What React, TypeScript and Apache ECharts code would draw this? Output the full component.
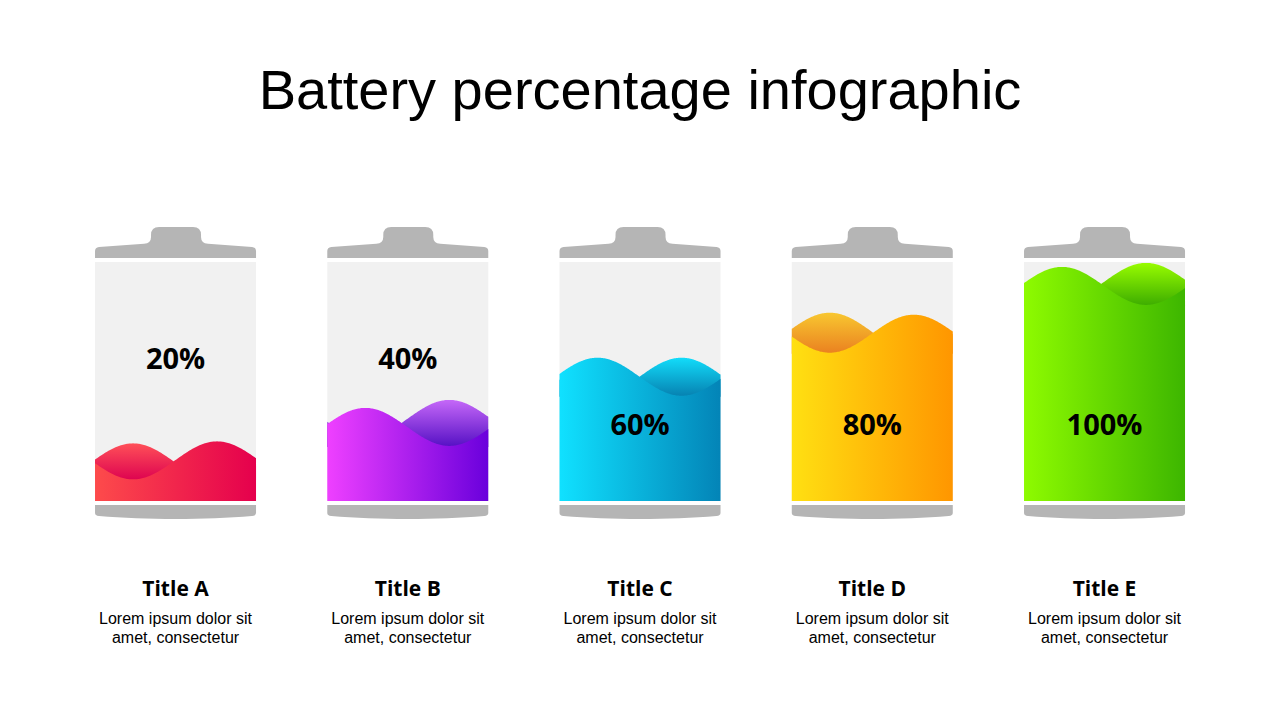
import React, { useEffect, useRef } from "react";
import * as echarts from "echarts";

const chartTitle = "Battery percentage infographic";
const categories = ["Title A", "Title B", "Title C", "Title D", "Title E"];
const percentLabels = ["20%", "40%", "60%", "80%", "100%"];
// observed mean liquid level, as % of battery body height
const fillLevels = [17, 31, 52, 70, 90];
const descriptions = [
  "Lorem ipsum dolor sit\namet, consectetur",
  "Lorem ipsum dolor sit\namet, consectetur",
  "Lorem ipsum dolor sit\namet, consectetur",
  "Lorem ipsum dolor sit\namet, consectetur",
  "Lorem ipsum dolor sit\namet, consectetur",
];
const frontColors = [
  ["#fd4b4b", "#e5004d"],
  ["#ef40ff", "#6a00dc"],
  ["#10e1ff", "#0384b7"],
  ["#ffe012", "#ff9600"],
  ["#8efb00", "#3db600"],
];
const backColors = [
  ["#ff5058", "#dc0050"],
  ["#c568f8", "#5510c4"],
  ["#12dcfa", "#0680b0"],
  ["#f8c730", "#ea8020"],
  ["#98fc00", "#3cac00"],
];
const waveFlip = [1, -1, -1, 1, -1];
const backOffset = [2, -8, 0, -2, -4];

const CAP_PATH =
  "M0,24 Q0,20.5 4,20 L49,16.8 Q56,16.3 56,10 L56,8 Q56,0 64,0 L98,0 Q106,0 106,8 L106,10 Q106,16.3 113,16.8 L157,20 Q161,20.5 161,24 L161,31 L0,31 Z";
const BASE_PATH =
  "M0,0 L161,0 L161,8 Q161,10.5 157,11 C110,15 51,15 4,11 Q0,10.5 0,8 Z";

export default function App() {
  const ref = useRef<HTMLDivElement>(null);
  useEffect(() => {
    if (!ref.current) return;
    const chart = echarts.init(ref.current, undefined, { renderer: "svg" });
    const W = 161;
    const AMP = 19;
    const HALF = 84;
    const PH = 38;

    const renderItem = (params: any, api: any) => {
      const i = params.dataIndex;
      const [cx, yLevel] = api.coord([i, api.value(1)]);
      const [, yBottom] = api.coord([i, 0]);
      const [, yTop] = api.coord([i, 100]);
      const x0 = cx - W / 2;
      const flip = waveFlip[i];
      const front: number[][] = [];
      const back: number[][] = [];
      const yb = yLevel + backOffset[i];
      for (let u = 0; u <= W; u += 1) {
        const c = Math.cos(((u - PH) / HALF) * Math.PI);
        front.push([x0 + u, yLevel + flip * AMP * c]);
        back.push([x0 + u, yb - flip * AMP * c]);
      }
      front.push([x0 + W, yBottom], [x0, yBottom]);
      const backBottom = yLevel + AMP + 1;
      back.push([x0 + W, backBottom], [x0, backBottom]);
      const frac = api.value(1) < 50 ? 0.6 : 0.326;
      const labelY = yBottom - (yBottom - yTop) * frac;
      const txt = (text: string, x: number, y: number, font: string, extra: any = {}) => ({
        type: "text",
        style: {
          text,
          x,
          y,
          font,
          fill: "#000",
          align: "center",
          verticalAlign: "middle",
          textAlign: "center",
          textVerticalAlign: "middle",
          ...extra,
        },
      });
      return {
        type: "group",
        children: [
          {
            type: "rect",
            shape: { x: x0, y: yTop, width: W, height: yBottom - yTop },
            style: { fill: "#f1f1f1" },
          },
          {
            type: "polygon",
            shape: { points: back },
            style: {
              fill: new echarts.graphic.LinearGradient(0, 0, 0, 1, [
                { offset: 0, color: backColors[i][0] },
                { offset: 1, color: backColors[i][1] },
              ]),
            },
          },
          {
            type: "polygon",
            shape: { points: front },
            style: {
              fill: new echarts.graphic.LinearGradient(0, 0, 1, 0, [
                { offset: 0, color: frontColors[i][0] },
                { offset: 1, color: frontColors[i][1] },
              ]),
            },
          },
          {
            type: "path",
            shape: { pathData: CAP_PATH, x: x0, y: yTop - 35, width: W, height: 31, layout: "cover" },
            style: { fill: "#b5b5b5" },
          },
          {
            type: "path",
            shape: { pathData: BASE_PATH, x: x0, y: yBottom + 4, width: W, height: 14, layout: "cover" },
            style: { fill: "#b5b5b5" },
          },
          txt(percentLabels[i], cx, labelY, 'bold 29px "Open Sans"'),
          txt(categories[i], cx, yBottom + 87, 'bold 21px "Open Sans"'),
          txt(descriptions[i], cx, yBottom + 127, '16px "Liberation Sans"', { lineHeight: 19 }),
        ],
      };
    };

    chart.setOption({
      animation: false,
      backgroundColor: "#ffffff",
      graphic: [
        {
          type: "text",
          style: {
            text: chartTitle,
            x: 640,
            y: 89,
            font: '56px "Liberation Sans"',
            fill: "#000",
            align: "center",
            verticalAlign: "middle",
            textAlign: "center",
            textVerticalAlign: "middle",
          },
        },
      ],
      grid: { left: 59.4, right: 59.35, top: 262, bottom: 219 },
      xAxis: { type: "category", data: categories, show: false },
      yAxis: { type: "value", min: 0, max: 100, show: false },
      series: [
        {
          type: "custom",
          renderItem,
          clip: false,
          data: fillLevels.map((v, i) => [i, v]),
        },
      ],
    });
    return () => chart.dispose();
  }, []);
  return (
    <div
      ref={ref}
      style={{ position: "fixed", left: 0, top: 0, width: 1280, height: 720 }}
    />
  );
}
